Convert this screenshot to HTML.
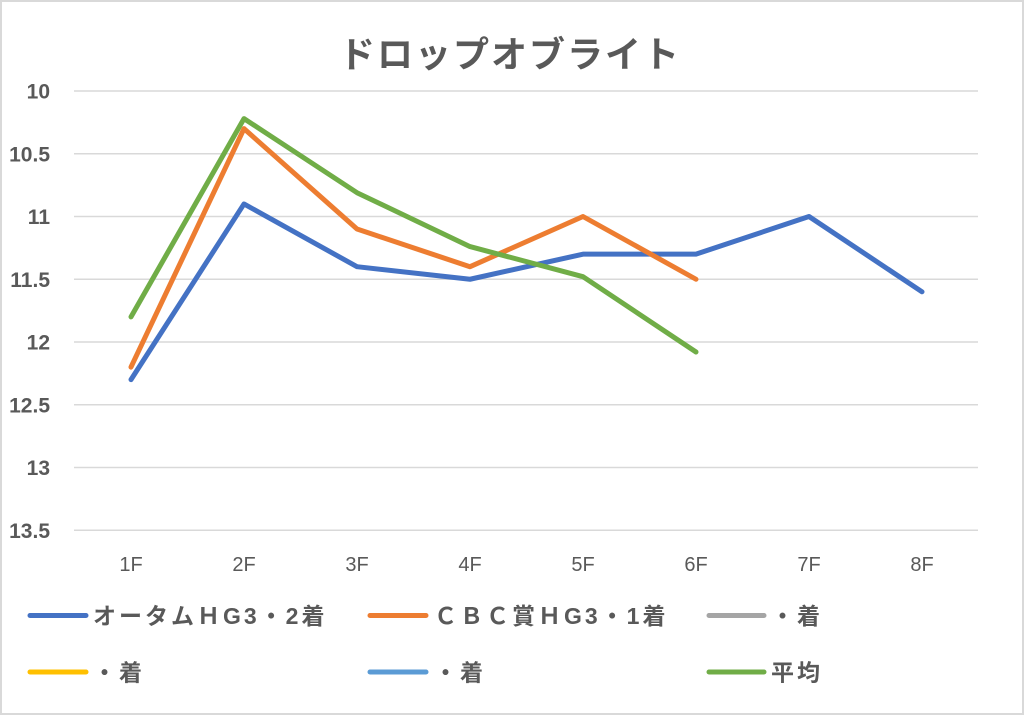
<!DOCTYPE html>
<html>
<head>
<meta charset="utf-8">
<style>
  html, body { margin:0; padding:0; background:#ffffff; }
  .wrap { width:1024px; height:715px; box-sizing:border-box; border:2px solid #d9d9d9; background:#fff; position:relative; overflow:hidden; }
  svg { position:absolute; left:-2px; top:-2px; }
  .t { font-family:"Liberation Sans","Noto Sans CJK JP",sans-serif; fill:#595959; }
</style>
</head>
<body>
<div class="wrap">
<svg width="1024" height="715" viewBox="0 0 1024 715" xmlns="http://www.w3.org/2000/svg">
  <!-- title -->
  <text class="t" x="339" y="67" font-size="36" font-weight="bold" letter-spacing="2">ドロップオブライト</text>

  <!-- gridlines -->
  <g stroke="#d9d9d9" stroke-width="1.5">
    <line x1="74" y1="91" x2="978" y2="91"/>
    <line x1="74" y1="153.75" x2="978" y2="153.75"/>
    <line x1="74" y1="216.5" x2="978" y2="216.5"/>
    <line x1="74" y1="279.25" x2="978" y2="279.25"/>
    <line x1="74" y1="342" x2="978" y2="342"/>
    <line x1="74" y1="404.75" x2="978" y2="404.75"/>
    <line x1="74" y1="467.5" x2="978" y2="467.5"/>
    <line x1="74" y1="530.25" x2="978" y2="530.25"/>
  </g>

  <!-- y labels -->
  <g class="t" font-size="21" font-weight="bold" text-anchor="end">
    <text x="50" y="98.5">10</text>
    <text x="50" y="161.25">10.5</text>
    <text x="50" y="224">11</text>
    <text x="50" y="286.75">11.5</text>
    <text x="50" y="349.5">12</text>
    <text x="50" y="412.25">12.5</text>
    <text x="50" y="475">13</text>
    <text x="50" y="537.75">13.5</text>
  </g>

  <!-- x labels -->
  <g class="t" font-size="20" text-anchor="middle">
    <text x="131" y="571">1F</text>
    <text x="244" y="571">2F</text>
    <text x="357" y="571">3F</text>
    <text x="470" y="571">4F</text>
    <text x="583" y="571">5F</text>
    <text x="696" y="571">6F</text>
    <text x="809" y="571">7F</text>
    <text x="922" y="571">8F</text>
  </g>

  <!-- series -->
  <g fill="none" stroke-width="5" stroke-linecap="round" stroke-linejoin="round">
    <polyline stroke="#4472C4" points="131,379.65 244,203.95 357,266.7 470,279.25 583,254.15 696,254.15 809,216.5 922,291.8"/>
    <polyline stroke="#ED7D31" points="131,367.1 244,128.65 357,229.05 470,266.7 583,216.5 696,279.25"/>
    <polyline stroke="#70AD47" points="131,316.9 244,118.6 357,192.7 470,246.6 583,276.7 696,352"/>
  </g>

  <!-- legend -->
  <g stroke-width="5" stroke-linecap="round">
    <line x1="30" y1="615.5" x2="86" y2="615.5" stroke="#4472C4"/>
    <line x1="370" y1="615.5" x2="426" y2="615.5" stroke="#ED7D31"/>
    <line x1="709" y1="615.5" x2="764" y2="615.5" stroke="#A5A5A5"/>
    <line x1="30" y1="672" x2="86" y2="672" stroke="#FFC000"/>
    <line x1="370" y1="672" x2="426" y2="672" stroke="#5B9BD5"/>
    <line x1="709" y1="672" x2="764" y2="672" stroke="#70AD47"/>
  </g>
  <g class="t" font-size="23" font-weight="bold" letter-spacing="3">
    <text x="93" y="624">オータムＨG3・2着</text>
    <text x="434" y="624">ＣＢＣ賞ＨG3・1着</text>
    <text x="771" y="624">・着</text>
    <text x="93" y="680.5">・着</text>
    <text x="434" y="680.5">・着</text>
    <text x="771" y="680.5">平均</text>
  </g>
</svg>
</div>
</body>
</html>
